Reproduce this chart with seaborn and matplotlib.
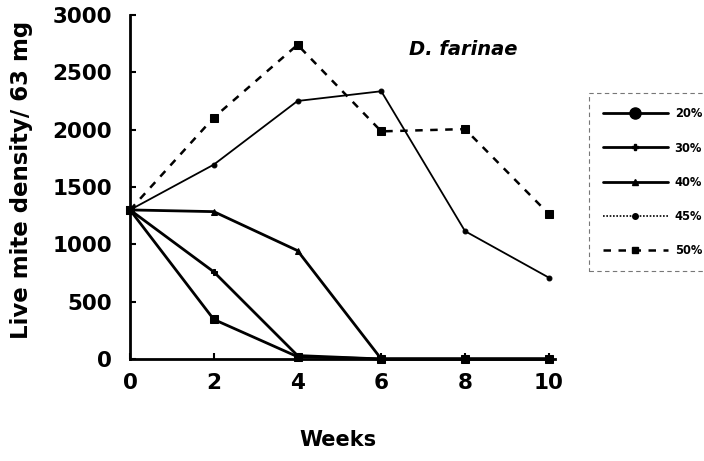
import matplotlib
matplotlib.use("Agg")
import matplotlib.pyplot as plt
from matplotlib.lines import Line2D
import seaborn as sns
import pandas as pd

weeks = [0, 2, 4, 6, 8, 10]
rh_20 = [1300, 345, 20, 0, 0, 0]
rh_30 = [1300, 760, 30, 0, 0, 0]
rh_40 = [1300, 1285, 945, 0, 0, 0]
rh_45 = [1300, 1695, 2250, 2335, 1115, 710]
rh_50 = [1300, 2105, 2740, 1985, 2005, 1265]
labels = ["20%", "30%", "40%", "45%", "50%"]
yticks = [0, 500, 1000, 1500, 2000, 2500, 3000]
xticks = [0, 2, 4, 6, 8, 10]

sns.set_style("ticks")
plt.rcParams["font.family"] = ["DejaVu Sans"]
plt.rcParams["text.color"] = "black"
plt.rcParams["xtick.color"] = "black"
plt.rcParams["ytick.color"] = "black"
plt.rcParams["axes.labelcolor"] = "black"

fig = plt.figure(figsize=(7.04, 4.61), dpi=100)
ax = fig.add_axes([0.1847, 0.2213, 0.6037, 0.7462])

series = [rh_20, rh_30, rh_40, rh_45, rh_50]
styles = [
    dict(marker="s", markersize=6, linewidth=2.0, linestyle="-"),
    dict(marker="P", markersize=4, linewidth=2.0, linestyle="-"),
    dict(marker="^", markersize=4, linewidth=2.0, linestyle="-"),
    dict(marker="o", markersize=3.5, linewidth=1.3, linestyle="-"),
    dict(marker="s", markersize=6, linewidth=1.8, linestyle=(0, (3, 3))),
]
for vals, lab, st in zip(series, labels, styles):
    df = pd.DataFrame({"Weeks": weeks, "Density": vals})
    sns.lineplot(data=df, x="Weeks", y="Density", ax=ax, color="black",
                 markeredgecolor="black", clip_on=False, zorder=3, **st)

ax.set_xlim(0, 10.15)
ax.set_ylim(0, 3000)
ax.set_xticks(xticks)
ax.set_yticks(yticks)
ax.set_xlabel("")
ax.set_ylabel("")
ax.tick_params(direction="in", length=4, width=1.5, labelsize=15.5, colors="black")
ax.tick_params(axis="y", pad=13)
ax.tick_params(axis="x", pad=10)
for t in ax.get_xticklabels() + ax.get_yticklabels():
    t.set_fontweight("bold")
for s in ["top", "right"]:
    ax.spines[s].set_visible(False)
for s in ["left", "bottom"]:
    ax.spines[s].set_linewidth(2)
    ax.spines[s].set_color("black")

ax.text(7.95, 2700, "D. farinae", ha="center", va="center", color="black",
        fontsize=14, fontweight="bold", fontstyle="italic")

fig.text(0.030, 0.61, "Live mite density/ 63 mg", rotation=90, ha="center",
         va="center", fontsize=16.5, fontweight="bold", color="black")
fig.text(0.48, 0.045, "Weeks", ha="center", va="center",
         fontsize=15, fontweight="bold", color="black")

handles = [
    Line2D([], [], color="black", marker="o", markersize=8, linewidth=2.0),
    Line2D([], [], color="black", marker="P", markersize=4, linewidth=2.0),
    Line2D([], [], color="black", marker="^", markersize=4, linewidth=2.0),
    Line2D([], [], color="black", marker="o", markersize=4, linewidth=1.2, linestyle=(0, (1, 1))),
    Line2D([], [], color="black", marker="s", markersize=5, linewidth=1.8, linestyle=(0, (3, 3))),
]
leg = fig.legend(handles, labels, loc="upper left", bbox_to_anchor=(0.829, 0.81),
                 frameon=True, fancybox=False,
                 prop=dict(weight="bold", size=8.3),
                 handlelength=5.6, handletextpad=0.6, labelspacing=1.85,
                 borderpad=1.2, markerscale=1.0)
for txt in leg.get_texts():
    txt.set_color("black")
frame = leg.get_frame()
frame.set_edgecolor("#555555")
frame.set_linewidth(0.8)
frame.set_linestyle((0, (4, 3)))

fig.savefig("out.png", dpi=100)
